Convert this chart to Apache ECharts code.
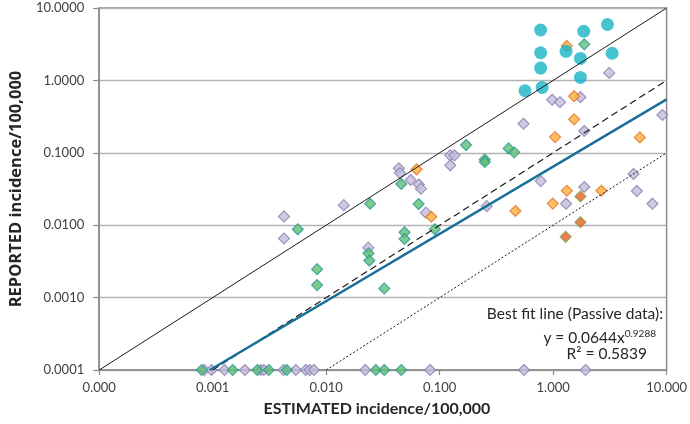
<!DOCTYPE html>
<html>
<head>
<meta charset="utf-8">
<script src="https://cdn.jsdelivr.net/npm/echarts@6/dist/echarts.min.js"></script>
<style>html,body{margin:0;padding:0;background:#fff}#c{width:690px;height:424px}</style>
</head>
<body>
<div id="c"></div>
<script>
// Tick labels
var xTickLabels = ['0.000','0.001','0.010','0.100','1.000','10.000'];
var yTickLabels = ['0.0001','0.0010','0.0100','0.1000','1.0000','10.0000'];

// Cyan circles
var cyanX = [0.776,0.776,0.776,0.80,0.565,1.30,1.86,3.01,1.74,3.31,1.74];
var cyanY = [4.97,2.41,1.48,0.80,0.72,2.52,4.77,5.92,2.01,2.37,1.10];

// Green diamonds
var greenX = [1.88,0.171,0.25,0.25,0.405,0.454,0.0459,0.0244,0.0652,0.0908,0.00562,0.049,0.049,0.0236,0.024,0.00832,0.00832,0.0325,
  0.000798,0.0015,0.00247,0.00312,0.00449,0.0274,0.0325,0.0459];
var greenY = [3.15,0.128,0.0806,0.0746,0.115,0.1016,0.0371,0.0198,0.0196,0.00878,0.00878,0.00798,0.00645,0.0041,0.00325,0.00247,0.00149,0.00134,
  0.0001,0.0001,0.0001,0.0001,0.0001,0.0001,0.0001,0.0001];

// Lavender diamonds
var lavX = [3.12,0.98,1.15,1.74,0.548,1.88,9.18,0.124,0.135,0.124,0.0437,0.0446,0.0555,0.0657,0.0684,0.778,5.11,1.88,5.47,1.30,7.5,0.26,0.0143,0.0755,0.00425,0.00425,0.0235,
  0.000843,0.000975,0.00127,0.00192,0.00264,0.00282,0.0042,0.0054,0.0066,0.00714,0.0078,0.0221,0.0823,0.553,1.93];
var lavY = [1.27,0.54,0.50,0.586,0.252,0.20,0.333,0.0923,0.0923,0.0672,0.0611,0.0526,0.0421,0.0365,0.032,0.0407,0.051,0.0337,0.0297,0.0198,0.0198,0.0183,0.0189,0.0149,0.0132,0.00655,0.00489,
  0.0001,0.0001,0.0001,0.0001,0.0001,0.0001,0.0001,0.0001,0.0001,0.0001,0.0001,0.0001,0.0001,0.0001,0.0001];

// Orange diamonds
var orangeX = [1.32,1.53,1.53,1.04,5.81,0.0626,0.0844,1.32,2.66,0.993,0.465];
var orangeY = [2.99,0.605,0.290,0.165,0.163,0.0592,0.0131,0.0299,0.0299,0.0199,0.0157];

// Red diamonds
var redX = [1.74,1.74,1.29];
var redY = [0.0249,0.011,0.0069];

// Reference lines (endpoints)
var identityX = [0.0001,10], identityY = [0.0001,10];
var tenthX = [0.001,10], tenthY = [0.0001,1];
var hundredthX = [0.01,10], hundredthY = [0.0001,0.1];
var fitX = [0.000946,10], fitY = [0.0001,0.547];

function zip(a,b){return a.map(function(v,i){return [v,b[i]];});}

var FONT = 'Lato';
var chart = echarts.init(document.getElementById('c'));
chart.setOption({
  animation:false,
  textStyle:{fontFamily:FONT},
  grid:{left:89,right:23,top:8,bottom:54,show:true,borderColor:'#8c8c8c',borderWidth:1.5},
  xAxis:{type:'log',logBase:10,min:0.0001,max:10,splitNumber:5,
    name:'ESTIMATED incidence/100,000',nameLocation:'middle',nameGap:31,
    nameTextStyle:{fontFamily:FONT,fontWeight:'bold',fontSize:16,color:'#262626',padding:[0,12,0,0]},
    axisLine:{lineStyle:{color:'#8c8c8c',width:1.5}},
    axisTick:{show:true,length:5,lineStyle:{color:'#8c8c8c',width:1.2}},
    axisLabel:{margin:11,fontSize:13,color:'#404040',fontFamily:FONT,
      formatter:function(v){var i=Math.round(Math.log10(v))+4;return xTickLabels[i]||'';}},
    splitLine:{show:false},minorTick:{show:false}},
  yAxis:{type:'log',logBase:10,min:0.0001,max:10,splitNumber:5,
    name:'REPORTED incidence/100,000',nameLocation:'middle',nameGap:65,
    nameTextStyle:{fontFamily:'Open Sans',fontWeight:'bold',fontSize:16.5,color:'#262626'},
    axisLine:{show:true,lineStyle:{color:'#8c8c8c',width:1.5}},
    axisTick:{show:true,length:6,lineStyle:{color:'#8c8c8c',width:1.2}},
    axisLabel:{margin:15,fontSize:13,color:'#404040',fontFamily:FONT,
      formatter:function(v){var i=Math.round(Math.log10(v))+4;return yTickLabels[i]||'';}},
    splitLine:{show:true,lineStyle:{color:'#b4b4b4',width:1.3}}},
  series:[
    {type:'scatter',symbol:'diamond',symbolSize:11,data:zip(lavX,lavY),
      itemStyle:{color:'#c4bdd9',borderColor:'#8a7fb2',borderWidth:1.2}},
    {type:'scatter',symbol:'diamond',symbolSize:11,data:zip(greenX,greenY),
      itemStyle:{color:'#5fbd74',borderColor:'#2a9a92',borderWidth:1.2}},
    {type:'scatter',symbol:'diamond',symbolSize:11,data:zip(orangeX,orangeY),
      itemStyle:{color:'#fbb03b',borderColor:'#e8702a',borderWidth:1.2}},
    {type:'scatter',symbol:'diamond',symbolSize:11,data:zip(redX,redY),
      itemStyle:{color:'#ef5a24',borderColor:'#7fa447',borderWidth:1.2}},
    {type:'scatter',symbol:'circle',symbolSize:13,data:zip(cyanX,cyanY),
      itemStyle:{color:'#17b4c6'}},
    {type:'line',data:zip(identityX,identityY),symbol:'none',silent:true,
      lineStyle:{color:'#1a1a1a',width:1}},
    {type:'line',data:zip(tenthX,tenthY),symbol:'none',silent:true,
      lineStyle:{color:'#1a1a1a',width:1.2,type:[7,4]}},
    {type:'line',data:zip(hundredthX,hundredthY),symbol:'none',silent:true,
      lineStyle:{color:'#1a1a1a',width:1,type:[2,2]}},
    {type:'line',data:zip(fitX,fitY),symbol:'none',silent:true,
      lineStyle:{color:'#1a6f98',width:2.5}}
  ],
  graphic:[
    {type:'text',right:27,top:306,style:{text:'Best fit line (Passive data):',fontFamily:FONT,fontSize:15.5,fill:'#262626'}},
    {type:'text',right:34,top:326,style:{text:'{a|y = 0.0644x}{b|0.9288}',fontFamily:FONT,fill:'#262626',
      rich:{a:{fontSize:15.5,fontFamily:FONT,fill:'#262626',verticalAlign:'bottom',lineHeight:20},
            b:{fontSize:10,fontFamily:FONT,fill:'#262626',verticalAlign:'top',lineHeight:20,padding:[3,0,0,0]}}}},
    {type:'text',right:43,top:346,style:{text:'R² = 0.5839',fontFamily:FONT,fontSize:15.5,fill:'#262626'}}
  ]
});
</script>
</body>
</html>
